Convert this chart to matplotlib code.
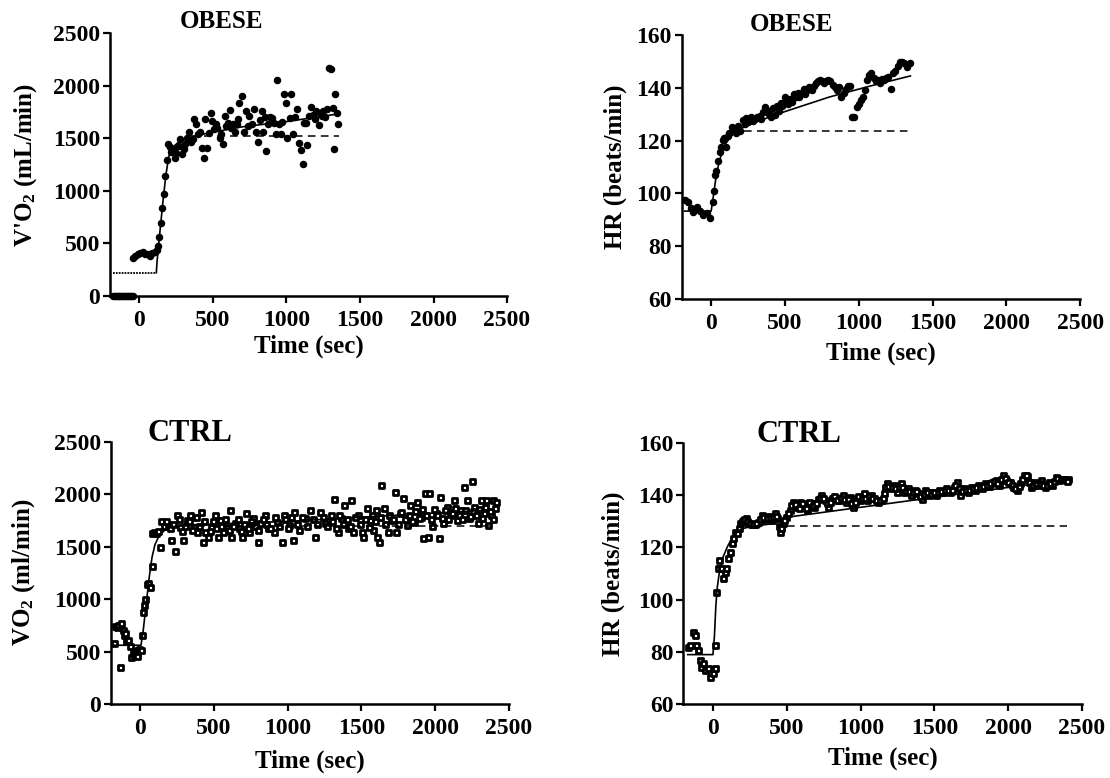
import matplotlib
matplotlib.use('Agg')
import matplotlib.pyplot as plt
from matplotlib.markers import MarkerStyle

# ---- data ----
# OBESE, VO2 (mL/min)
ob_vo2_t = [-177, -167, -157, -147, -137, -127, -117, -107, -97, -87, -77, -67, -57, -47,
            -46, -28, -11, 7, 25, 41, 57, 71, 87, 103, 117, 126,
            135, 147, 156, 165, 174, 186, 197, 206, 218, 232, 241, 252, 266, 275, 289, 300,
            310, 323, 340, 351, 365, 374, 386, 401, 415, 427, 438, 447, 461, 470, 484, 496,
            507, 518, 530, 546, 557, 571, 580, 592, 603, 615, 626, 638, 649, 661, 672, 679,
            700, 713, 725, 736, 748, 764, 778, 791, 805, 819, 833, 842, 856, 863, 874, 885,
            901, 915, 927, 938, 947, 961, 973, 986, 998, 1007, 1021, 1032, 1044, 1058, 1071,
            1085, 1099, 1113, 1122, 1131, 1142, 1154, 1170, 1181, 1195, 1204, 1218, 1227,
            1239, 1250, 1264, 1273, 1292, 1305, 1315, 1324, 1333, 1342, 1351]
ob_vo2 = [0, 0, 0, 0, 0, 0, 0, 0, 0, 0, 0, 0, 0, 0,
          365, 381, 403, 413, 422, 397, 403, 381, 413, 422, 435, 476,
          562, 698, 835, 975, 1143, 1292, 1445, 1419, 1375, 1397, 1311, 1365, 1429, 1492, 1356, 1403,
          1451, 1502, 1565, 1470, 1492, 1683, 1635, 1540, 1565, 1413, 1311, 1683, 1413, 1556, 1737, 1667,
          1587, 1635, 1603, 1508, 1540, 1445, 1714, 1619, 1651, 1768, 1597, 1635, 1565, 1635, 1683, 1841,
          1905, 1565, 1756, 1619, 1714, 1635, 1778, 1565, 1470, 1673, 1756, 1565, 1699, 1381, 1635, 1705,
          1692, 1651, 1546, 2054, 1635, 1546, 1660, 1927, 1841, 1508, 1692, 1921, 1540, 1699, 1778,
          1460, 1387, 1260, 1651, 1651, 1438, 1714, 1800, 1724, 1683, 1756, 1626, 1737,
          1714, 1756, 1699, 1778, 2168, 2159, 1787, 1397, 1921, 1737, 1635]
ob_vo2_base_t = [-177, 115]
ob_vo2_base = [222, 222]
ob_vo2_fit_t = [115, 120, 140, 160, 180, 200, 230, 270, 320, 400, 500, 700, 1000, 1340]
ob_vo2_fit = [222, 330, 620, 900, 1150, 1330, 1420, 1470, 1500, 1530, 1560, 1610, 1660, 1730]
ob_vo2_amp_t = [350, 1355]
ob_vo2_amp = [1520, 1520]

# OBESE, HR (beats/min)
ob_hr_t = [-174, -158, -139, -120, -96, -79, -55, -31, -7, 10, 17, 29, 36, 48, 60, 67, 77, 88,
           100, 112, 124, 139, 153, 165, 179, 196, 213, 227, 239, 251, 268, 282, 297, 309, 328,
           340, 354, 368, 383, 395, 407, 419, 431, 443, 459, 471, 483, 498, 507, 519, 536, 550,
           562, 574, 586, 598, 613, 627, 639, 651, 663, 680, 694, 708, 722, 737, 751, 766, 778,
           794, 808, 823, 837, 852, 866, 883, 897, 914, 928, 943, 957, 971, 986, 1000, 1014,
           1028, 1043, 1057, 1071, 1086, 1100, 1114, 1129, 1143, 1157, 1172, 1186, 1200, 1220,
           1234, 1248, 1263, 1277, 1291, 1308, 1325, 1344]
ob_hr = [97.5, 96.9, 94.3, 93.1, 95.0, 93.5, 91.8, 92.4, 90.6, 96.9, 101.0, 107.0, 108.6, 112.4,
         115.8, 117.7, 120.2, 120.9, 117.7, 121.7, 123.0, 125.3, 124.3, 122.8, 125.5, 123.8, 127.8,
         126.3, 128.4, 127.2, 129.1, 127.6, 128.1, 128.8, 129.3, 128.1, 131.0, 132.6, 130.6, 131.4,
         129.1, 132.3, 129.8, 133.2, 131.4, 134.2, 133.2, 136.7, 134.8, 133.9, 135.7, 134.8, 137.7,
         136.7, 138.0, 136.4, 138.2, 139.5, 137.7, 139.2, 140.2, 139.0, 140.7, 141.7, 142.4, 143.0,
         142.6, 142.0, 142.4, 143.0, 142.4, 141.1, 140.2, 139.0, 140.2, 136.7, 138.0, 139.5, 140.7,
         140.5, 128.9, 128.9, 132.9, 133.9, 135.2, 136.7, 139.0, 143.0, 144.9, 145.7, 143.6, 142.4,
         143.0, 141.7, 143.3, 142.8, 143.6, 144.0, 139.5, 145.7, 146.2, 148.3, 149.9, 149.9, 149.5,
         148.0, 149.5]
ob_hr_fit_t = [-180, 0, 15, 30, 50, 75, 100, 140, 200, 300, 500, 800, 1100, 1350]
ob_hr_fit = [93.3, 93.3, 99, 105, 111, 116, 119, 122, 124.5, 127, 131, 136.5, 141, 144.5]
ob_hr_amp_t = [220, 1350]
ob_hr_amp = [123.5, 123.5]

# CTRL, VO2 (ml/min)
ct_vo2_t = [-178, -171, -160, -148, -137, -132, -119, -110, -101, -96, -81, -69, -63, -51, -45,
            -35, -23, -20, -6, 8, 12, 17, 26, 35, 44, 54, 63, 77, 82, 95, 106, 118, 134, 141,
            164, 188, 211, 235, 247, 270, 293, 317, 340, 364, 387, 411, 423, 439, 458, 481, 505,
            524, 540, 563, 587, 610, 617, 646, 669, 693, 716, 740, 763, 798, 815, 845, 869, 904,
            927, 963, 974, 1010, 1033, 1045, 1080, 1115, 1150, 1186, 1221, 1256, 1291, 1315, 1338,
            1362, 1385, 1409, 1432, 1444, 1479, 1503, 1514, 1538, 1561, 1580, 1597, 1608, 1620,
            1632, 1651, 1679, 1702, 1726, 1738, 1761, 1784, 1808, 1831, 1855, 1878, 1902, 1918,
            1932, 1949, 1961, 1979, 2003, 2026, 2036, 2054, 2078, 2101, 2125, 2148, 2172, 2195,
            2214, 2230, 2247, 2266, 2289, 2313, 2331, 2348, 2360, 2378, 2395, 2411,
            175, 200, 225, 260, 280, 305, 330, 350, 375, 400, 430, 470, 495, 515, 550, 575, 600,
            630, 660, 680, 705, 730, 750, 780, 800, 830, 855, 880, 915, 940, 985, 1000, 1020,
            1060, 1095, 1130, 1170, 1200, 1240, 1270, 1300, 1325, 1350, 1375, 1400, 1420, 1455,
            1490, 1525, 1550, 1570, 1590, 1625, 1660, 1690, 1715, 1745, 1770, 1795, 1820, 1840,
            1865, 1890, 1910, 1940, 1970, 1990, 2015, 2045, 2065, 2090, 2115, 2135, 2160, 2185,
            2205, 2240, 2260, 2280, 2300, 2320, 2340, 2370, 2390, 2405]
ct_vo2 = [582, 741, 735, 756, 355, 772, 709, 661, 674, 598, 614, 557, 451, 503, 467,
          487, 515, 456, 525, 519, 658, 874, 946, 1000, 1146, 1156, 1118, 1315, 1627, 1640, 1627,
          1650, 1500, 1747, 1697, 1716, 1563, 1458, 1802, 1690, 1563, 1754, 1802, 1690, 1642, 1833,
          1547, 1642, 1595, 1690, 1802, 1595, 1754, 1642, 1690, 1849, 1595, 1722, 1674, 1595, 1817,
          1642, 1770, 1547, 1722, 1802, 1674, 1642, 1738, 1547, 1802, 1706, 1563, 1833, 1658, 1770,
          1849, 1595, 1833, 1722, 1802, 1951, 1642, 1770, 1897, 1674, 1945, 1642, 1802, 1642, 1595,
          1865, 1754, 1658, 1849, 1595, 1547, 2087, 1865, 1642, 1754, 2024, 1642, 1817, 1960, 1706,
          1897, 1738, 1928, 1786, 1579, 2014, 1595, 2008, 1697, 1817, 1579, 1970, 1722, 1881, 1802,
          1945, 1754, 1849, 2065, 1945, 1770, 2128, 1881, 1722, 1945, 1817, 1945, 1706, 1802, 1945,
          1928,
          1740, 1680, 1720, 1760, 1650, 1700, 1740, 1660, 1780, 1700, 1740, 1650, 1740, 1680, 1700,
          1760, 1660, 1700, 1760, 1650, 1720, 1680, 1740, 1700, 1660, 1760, 1720, 1680, 1780, 1700,
          1760, 1680, 1780, 1720, 1780, 1700, 1760, 1720, 1780, 1700, 1740, 1680, 1800, 1720, 1760,
          1700, 1780, 1720, 1760, 1690, 1800, 1740, 1780, 1720, 1800, 1760, 1720, 1830, 1760, 1800,
          1740, 1840, 1770, 1860, 1800, 1760, 1860, 1800, 1770, 1850, 1760, 1820, 1870, 1800, 1760,
          1850, 1790, 1840, 1800, 1860, 1770, 1880, 1840, 1760, 1870]
ct_vo2_fit_t = [-190, 5, 20, 40, 60, 80, 100, 130, 170, 220, 300, 500, 1000, 1500, 2000, 2400]
ct_vo2_fit = [560, 560, 700, 950, 1200, 1400, 1520, 1610, 1660, 1690, 1705, 1715, 1740, 1780, 1820, 1850]
ct_vo2_amp_t = [300, 2400]
ct_vo2_amp = [1700, 1700]

# CTRL, HR (beats/min)
ct_hr_t = [-172, -153, -136, -124, -112, -100, -88, -81, -64, -52, -33, -17, 0, 14, 14, 24, 33,
           43, 55, 67, 79, 91, 103, 115, 126, 138, 150, 162, 174, 186, 205, 222, 239, 258, 282,
           305, 329, 353, 377, 401, 420, 437, 453, 472, 496, 520, 544, 568, 592, 616, 639, 663,
           687, 711, 735, 758, 782, 806, 830, 854, 878, 902, 926, 950, 973, 997, 1021, 1045, 1069,
           1093, 1117, 1141, 1160, 1176, 1200, 1224, 1248, 1272, 1296, 1319, 1343, 1367, 1391,
           1415, 1439, 1463, 1486, 1510, 1534, 1558, 1582, 1606, 1630, 1654, 1677, 1701, 1725,
           1749, 1773, 1797, 1821, 1844, 1868, 1892, 1916, 1940, 1964, 1988, 2011, 2035, 2059,
           2083, 2107, 2131, 2155, 2178, 2202, 2226, 2250, 2274, 2298, 2322, 2345, 2369, 2393, 2405,
           195, 213, 230, 248, 270, 294, 317, 341, 365, 389, 410, 428, 445, 462, 484,
           508, 532, 556, 580, 604, 628, 651, 675, 699, 723, 747, 770, 794, 818, 842, 866, 890,
           914, 938, 962, 985, 1009, 1033, 1057, 1081, 1105, 1129, 1150, 1168, 1188, 1212, 1236,
           1260, 1284, 1308, 1331, 1355, 1379, 1403, 1427, 1451, 1475, 1498, 1522, 1546, 1570,
           1594, 1618, 1642, 1666, 1689, 1713, 1737, 1761, 1785, 1809, 1833, 1856, 1880, 1904,
           1928, 1952, 1976, 2000, 2023, 2047, 2071, 2095, 2119, 2143, 2166, 2190, 2214, 2238,
           2262, 2286, 2310, 2333, 2357, 2381, 2400]
ct_hr = [82.0, 82.7, 87.8, 86.5, 82.7, 80.8, 76.9, 74.4, 75.7, 73.1, 73.8, 70.6, 71.8, 73.8, 82.7,
         103.1, 112.0, 115.2, 112.0, 108.2, 110.7, 112.0, 115.8, 118.3, 121.5, 123.4, 126.0, 125.4,
         127.3, 129.2, 130.4, 131.1, 129.4, 128.9, 128.9, 129.8, 132.4, 130.7, 132.0, 130.4, 133.0,
         131.1, 126.0, 129.2, 131.7, 134.3, 137.5, 135.5, 137.5, 136.2, 134.3, 136.8, 135.5, 138.3,
         140.0, 138.1, 135.5, 138.7, 139.4, 138.1, 140.0, 137.5, 139.4, 135.5, 138.7, 138.1, 140.6,
         138.1, 140.0, 138.7, 137.5, 138.1, 140.9, 144.5, 142.5, 143.8, 141.3, 144.5, 141.3, 142.5,
         140.0, 141.9, 140.6, 138.3, 141.9, 140.0, 141.3, 140.0, 141.9, 141.3, 142.5, 141.3, 143.2,
         145.1, 140.0, 142.5, 141.3, 142.9, 141.9, 143.8, 142.5, 144.5, 143.4, 145.1, 145.7, 143.8,
         147.6, 145.7, 145.1, 143.2, 141.9, 144.5, 147.6, 147.3, 143.2, 145.1, 143.8, 145.7, 142.9,
         145.1, 143.8, 147.0, 145.7, 146.3, 145.7, 146.3,
         130.0, 130.8, 130.0, 129.2, 128.9, 129.2, 131.0, 131.5, 131.3, 131.2, 131.5, 132.0, 128.0,
         127.5, 130.5,
         133.0, 136.0, 136.5, 135.0, 137.0, 135.0, 137.5, 136.0, 137.0, 139.0, 139.0, 137.0, 137.5,
         139.5, 138.0, 139.0, 138.5, 138.5, 137.0, 137.5, 139.5, 139.0, 139.0, 139.5, 139.0, 138.0,
         138.0, 139.0, 143.0, 143.5, 143.0, 142.5, 143.0, 143.0, 141.5, 141.5, 141.0, 141.5, 139.5,
         140.5, 141.0, 140.5, 141.0, 141.0, 141.5, 142.0, 142.0, 142.0, 144.0, 142.5, 141.5, 142.0,
         142.0, 142.5, 143.0, 143.0, 143.5, 144.0, 144.5, 145.5, 144.5, 146.0, 146.5, 145.0, 144.0,
         142.5, 143.5, 146.0, 147.5, 145.0, 144.0, 144.5, 144.5, 144.0, 144.0, 144.5, 145.5, 146.5,
         146.0, 146.0, 145.5]
ct_hr_fit_t = [-170, 0, 10, 20, 30, 45, 70, 100, 140, 190, 260, 400, 500, 1000, 1500, 2000, 2400]
ct_hr_fit = [79, 79, 86, 98, 105, 111, 116.5, 120.5, 124.5, 127, 128, 129, 131.5, 135.3, 139.1, 142.9, 146]
ct_hr_amp_t = [500, 2400]
ct_hr_amp = [128, 128]

x_ticks = [0, 500, 1000, 1500, 2000, 2500]

plt.rcParams['font.family'] = ['Liberation Serif', 'DejaVu Serif']
plt.rcParams['font.weight'] = 'bold'
plt.rcParams['mathtext.fontset'] = 'custom'
plt.rcParams['mathtext.rm'] = 'Liberation Serif'
plt.rcParams['mathtext.it'] = 'Liberation Serif:italic'
plt.rcParams['mathtext.bf'] = 'Liberation Serif:bold'

fig = plt.figure(figsize=(11.1, 7.78), dpi=100)


def style(ax, ylim, yticks, ylabel, ylab_x, xlab_y):
    ax.set_xlim(-200, 2500)
    ax.set_ylim(*ylim)
    ax.set_xticks(x_ticks)
    ax.set_yticks(yticks)
    for s in ['top', 'right']:
        ax.spines[s].set_visible(False)
    for s in ['left', 'bottom']:
        ax.spines[s].set_linewidth(1.8)
    ax.tick_params(direction='out', length=5, width=1.6, labelsize=17)
    ax.tick_params(axis='x', pad=5)
    ax.tick_params(axis='y', pad=2)
    ax.set_xlabel('Time (sec)', fontsize=18, fontweight='bold')
    ax.set_ylabel(ylabel, fontsize=18, fontweight='bold')
    ax.yaxis.set_label_coords(ylab_x, 0.5)
    ax.xaxis.set_label_coords(0.5, xlab_y)


def fit_lines(ax, ft, fv, at, av):
    ax.plot(ft, fv, color='black', lw=1.2, zorder=4)
    ax.plot(at, av, color='black', lw=1.1, dashes=(5, 3.5), zorder=4)


dots = dict(linestyle='none', marker='o', ms=4.4, color='black', clip_on=False, zorder=3)
squares = dict(linestyle='none', marker=MarkerStyle('s', joinstyle='round'), ms=3.6,
               mfc='white', mec='black', mew=2.0, clip_on=False, zorder=3)

# top left
ax1 = fig.add_axes([0.0991, 0.6195, 0.3577, 0.3377])
ax1.plot(ob_vo2_t, ob_vo2, **dots)
ax1.plot(ob_vo2_base_t, ob_vo2_base, color='black', lw=1.3, dashes=(1.0, 0.6), zorder=4)
fit_lines(ax1, ob_vo2_fit_t, ob_vo2_fit, ob_vo2_amp_t, ob_vo2_amp)
style(ax1, (0, 2500), [0, 500, 1000, 1500, 2000, 2500], "V'O$_2$ (mL/min)", -0.18, -0.148)
ax1.text(0.282, 1.044, 'OBESE', transform=ax1.transAxes, ha='center', va='center',
         fontsize=18, fontweight='bold')

# top right
ax2 = fig.add_axes([0.6141, 0.6157, 0.3590, 0.3393])
ax2.plot(ob_hr_t, ob_hr, **dots)
fit_lines(ax2, ob_hr_fit_t, ob_hr_fit, ob_hr_amp_t, ob_hr_amp)
style(ax2, (60, 160), [60, 80, 100, 120, 140, 160], 'HR (beats/min)', -0.138, -0.163)
ax2.text(0.2745, 1.038, 'OBESE', transform=ax2.transAxes, ha='center', va='center',
         fontsize=18, fontweight='bold')

# bottom left
ax3 = fig.add_axes([0.0998, 0.0951, 0.3586, 0.3372])
ax3.plot(ct_vo2_t, ct_vo2, **squares)
fit_lines(ax3, ct_vo2_fit_t, ct_vo2_fit, ct_vo2_amp_t, ct_vo2_amp)
style(ax3, (0, 2500), [0, 500, 1000, 1500, 2000, 2500], 'VO$_2$ (ml/min)', -0.186, -0.172)
ax3.text(0.198, 1.032, 'CTRL', transform=ax3.transAxes, ha='center', va='center',
         fontsize=22, fontweight='bold')

# bottom right
ax4 = fig.add_axes([0.6157, 0.0947, 0.3590, 0.3363])
ax4.plot(ct_hr_t, ct_hr, **squares)
fit_lines(ax4, ct_hr_fit_t, ct_hr_fit, ct_hr_amp_t, ct_hr_amp)
style(ax4, (60, 160), [60, 80, 100, 120, 140, 160], 'HR (beats/min)', -0.147, -0.163)
ax4.text(0.289, 1.032, 'CTRL', transform=ax4.transAxes, ha='center', va='center',
         fontsize=22, fontweight='bold')

fig.savefig('out.png', dpi=100)
